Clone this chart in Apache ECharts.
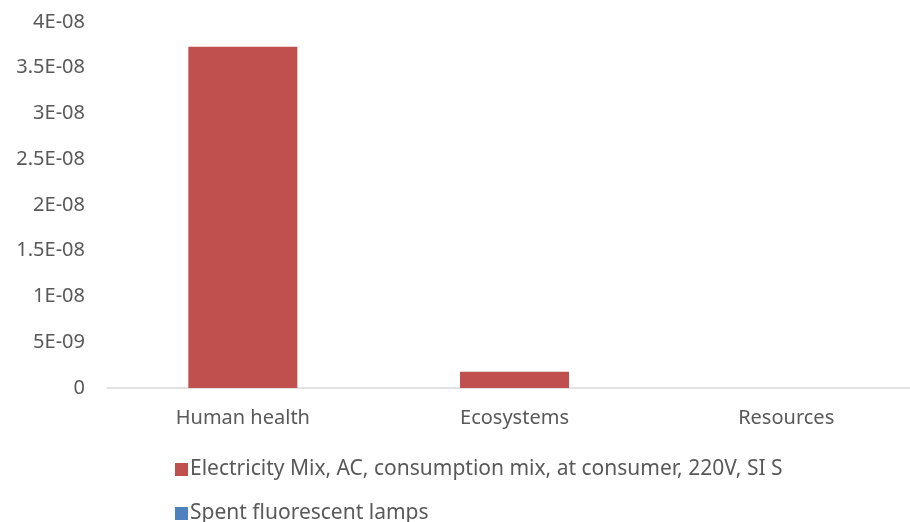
<!DOCTYPE html>
<html>
<head>
<meta charset="utf-8">
<script src="https://cdn.jsdelivr.net/npm/echarts@6/dist/echarts.min.js"></script>
<style>
  html, body { margin: 0; padding: 0; background: #fff; overflow: hidden; }
  #chart { width: 930px; height: 522px; }
</style>
</head>
<body>
<div id="chart"></div>
<script>
// Impact categories on the x axis
const categories = ['Human health', 'Ecosystems', 'Resources'];

// Series values per category
const electricityMix = [3.73e-8, 1.77e-9, 0];
const spentLamps = [0, 0, 0];

// Series names
const seriesNames = [
  'Electricity Mix, AC, consumption mix, at consumer, 220V, SI S',
  'Spent fluorescent lamps'
];

// Value axis tick labels, from 0 upward in steps of 5E-09
const yTickLabels = ['0', '5E-09', '1E-08', '1.5E-08', '2E-08', '2.5E-08', '3E-08', '3.5E-08', '4E-08'];
const yStep = 5e-9;

const textColor = '#595959';
const fontFamily = '"Noto Sans", "Open Sans", sans-serif';

// One legend block per series, stacked one under the other
function legendRow(name, top) {
  return {
    orient: 'vertical',
    left: 170,
    top: top,
    itemWidth: 13,
    itemHeight: 13,
    icon: 'rect',
    textStyle: { color: textColor, fontSize: 21, fontFamily: fontFamily, padding: [0, 0, 0, -3] },
    data: [name]
  };
}

const chart = echarts.init(document.getElementById('chart'));
chart.setOption({
  animation: false,
  textStyle: { fontFamily: fontFamily },
  grid: { left: 107, top: 22, width: 815, bottom: 134, containLabel: false },
  legend: [legendRow(seriesNames[0], 454), legendRow(seriesNames[1], 498)],
  xAxis: {
    type: 'category',
    data: categories,
    axisLine: { lineStyle: { color: '#d9d9d9', width: 1.5 } },
    axisTick: { show: false },
    axisLabel: { color: textColor, fontSize: 20, margin: 20 }
  },
  yAxis: {
    type: 'value',
    min: 0,
    max: 4e-8,
    interval: yStep,
    splitLine: { show: false },
    axisLine: { show: false },
    axisTick: { show: false },
    axisLabel: {
      color: textColor,
      fontSize: 20,
      margin: 22,
      formatter: function (v) {
        const i = Math.round(v / yStep);
        return yTickLabels[i] !== undefined ? yTickLabels[i] : '';
      }
    }
  },
  series: [
    {
      name: seriesNames[0],
      type: 'bar',
      data: electricityMix,
      barWidth: 109,
      barGap: '-100%',
      itemStyle: { color: '#c0504d' }
    },
    {
      name: seriesNames[1],
      type: 'bar',
      data: spentLamps,
      barWidth: 109,
      itemStyle: { color: '#4f81bd' }
    }
  ]
});
</script>
</body>
</html>
